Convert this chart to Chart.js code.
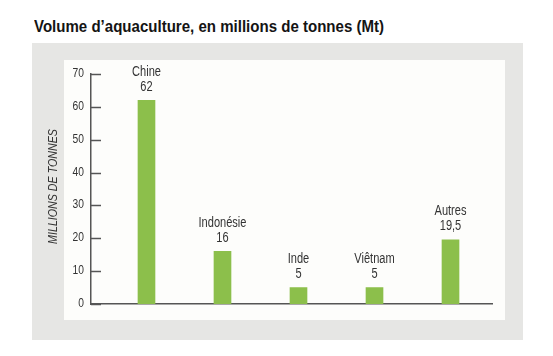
<!DOCTYPE html>
<html>
<head>
<meta charset="utf-8">
<script src="https://cdn.jsdelivr.net/npm/chart.js@4"></script>
<style>
html,body{margin:0;padding:0;background:#fff;width:553px;height:356px;overflow:hidden;position:relative}
#title{position:absolute;left:34px;top:16px;font-family:'Liberation Sans',Arial,sans-serif;font-weight:bold;font-size:16.5px;color:#141414;white-space:nowrap;line-height:20px;transform-origin:0 0}
#gray{position:absolute;left:32px;top:43px;width:491px;height:297px;background:#e6e6e4}
#white{position:absolute;left:64px;top:60px;width:441px;height:260px;background:#fdfdfb}
#wrap{position:absolute;left:0;top:0;width:553px;height:356px}
</style>
</head>
<body>
<div id="title">Volume d’aquaculture, en millions de tonnes (Mt)</div>
<div id="gray"></div>
<div id="white"></div>
<div id="wrap"><canvas id="c" width="553" height="356"></canvas></div>
<script>
const categories = ['Chine', 'Indonésie', 'Inde', 'Viêtnam', 'Autres'];
const values = [62, 16, 5, 5, 19.5];
const valueLabels = ['62', '16', '5', '5', '19,5'];
const yTicks = [0, 10, 20, 30, 40, 50, 60, 70];
const yTitle = 'MILLIONS DE TONNES';

const FONT = "'Liberation Sans', Arial, sans-serif";
const SX = 0.79; // horizontal condensing of the text
const AXIS_COLOR = '#555555';
const TEXT_COLOR = '#333333';

// condense the HTML title to the reference width
(function () {
  const t = document.getElementById('title');
  const w = t.getBoundingClientRect().width;
  t.style.transform = 'scaleX(' + (350 / w) + ')';
})();

function condensedText(ctx, text, x, y, font, align, rot) {
  ctx.save();
  ctx.translate(x, y);
  if (rot) ctx.rotate(rot);
  ctx.scale(SX, 1);
  ctx.font = font;
  ctx.fillStyle = TEXT_COLOR;
  ctx.textAlign = align;
  ctx.textBaseline = 'middle';
  ctx.fillText(text, 0, 0);
  ctx.restore();
}

const axisDecor = {
  id: 'axisDecor',
  afterDraw(chart) {
    const y = chart.scales.y;
    const ctx = chart.ctx;
    const left = chart.chartArea.left;
    ctx.save();
    ctx.strokeStyle = AXIS_COLOR;
    ctx.lineWidth = 1.5;
    yTicks.forEach(v => {
      const py = Math.round(y.getPixelForValue(v)) + 0.5;
      ctx.beginPath();
      ctx.moveTo(left, py);
      ctx.lineTo(left + 10, py);
      ctx.stroke();
      condensedText(ctx, String(v), left - 7, py - 1, '13px ' + FONT, 'right');
    });
    const midY = (chart.chartArea.top + chart.chartArea.bottom) / 2 - 2.5;
    condensedText(ctx, yTitle, 53, midY, 'italic 13.5px ' + FONT, 'center', -Math.PI / 2);
    ctx.restore();
  }
};

const barLabels = {
  id: 'barLabels',
  afterDatasetsDraw(chart) {
    const ctx = chart.ctx;
    const meta = chart.getDatasetMeta(0);
    meta.data.forEach((bar, i) => {
      condensedText(ctx, categories[i], bar.x, bar.y - 28.5, '14px ' + FONT, 'center');
      condensedText(ctx, valueLabels[i], bar.x, bar.y - 13.5, '14px ' + FONT, 'center');
    });
  }
};

new Chart(document.getElementById('c'), {
  type: 'bar',
  data: {
    datasets: [{
      data: categories.map((c, i) => ({ x: i, y: values[i] })),
      backgroundColor: '#8cbf4b',
      barThickness: 17
    }]
  },
  options: {
    responsive: false,
    animation: false,
    events: [],
    layout: { padding: { left: 0, right: 61, top: 74, bottom: 52 } },
    plugins: { legend: { display: false }, tooltip: { enabled: false }, title: { display: false } },
    scales: {
      x: {
        type: 'linear',
        offset: false,
        min: -0.73,
        max: 4.546,
        grid: { display: false, drawTicks: false },
        ticks: { display: false },
        border: { display: true, color: AXIS_COLOR, width: 1.5 }
      },
      y: {
        min: 0,
        max: 70,
        afterBuildTicks: (s) => { s.ticks = yTicks.map(v => ({ value: v })); },
        afterFit: (s) => { s.width = 91; },
        grid: { display: false, drawTicks: false },
        border: { display: true, color: AXIS_COLOR, width: 1.5 },
        ticks: { display: false }
      }
    }
  },
  plugins: [axisDecor, barLabels]
});
</script>
</body>
</html>
